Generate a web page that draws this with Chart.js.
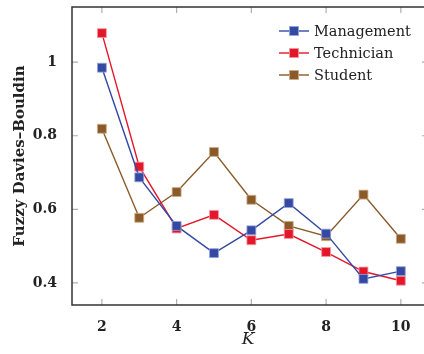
<!DOCTYPE html>
<html>
<head>
<meta charset="utf-8">
<script src="https://cdn.jsdelivr.net/npm/chart.js@4"></script>
<style>
  html, body { margin: 0; padding: 0; background: #fff; overflow: hidden; }
  #wrap { width: 424px; height: 354px; }
</style>
</head>
<body>
<div id="wrap"><canvas id="myChart"></canvas></div>
<script>
const kValues = [2, 3, 4, 5, 6, 7, 8, 9, 10];
const management = [0.985, 0.687, 0.555, 0.481, 0.543, 0.617, 0.534, 0.411, 0.432];
const technician = [1.079, 0.716, 0.548, 0.585, 0.516, 0.533, 0.484, 0.431, 0.406];
const student = [0.819, 0.577, 0.647, 0.756, 0.626, 0.555, 0.527, 0.640, 0.520];
const xTicks = [2, 4, 6, 8, 10];
const yTicks = [0.4, 0.6, 0.8, 1];

const serif = "'DejaVu Serif', serif";

function series(label, values, color, edge) {
    return {
        label: label,
        data: kValues.map((k, i) => ({ x: k, y: values[i] })),
        borderColor: color,
        backgroundColor: color,
        borderWidth: 1.4,
        pointStyle: 'rect',
        pointRadius: 6.3,
        pointBackgroundColor: color,
        pointBorderColor: edge,
        pointBorderWidth: 1,
        tension: 0
    };
}

const datasets = [
    series('Management', management, '#3449a2', 'rgba(150,165,220,0.8)'),
    series('Technician', technician, '#e3172a', 'rgba(245,150,160,0.8)'),
    series('Student', student, '#8a5a2a', 'rgba(205,170,130,0.8)')
];

// frame, inward ticks and legend
const framePlugin = {
    id: 'frame',
    afterDatasetsDraw(chart) {
        const ctx = chart.ctx;
        const a = chart.chartArea;
        const xs = chart.scales.x, ys = chart.scales.y;
        ctx.save();
        ctx.strokeStyle = '#b0b0b0';
        ctx.lineWidth = 1.2;
        xTicks.forEach(v => {
            const px = xs.getPixelForValue(v);
            ctx.beginPath();
            ctx.moveTo(px, a.bottom); ctx.lineTo(px, a.bottom - 6);
            ctx.moveTo(px, a.top); ctx.lineTo(px, a.top + 6);
            ctx.stroke();
        });
        yTicks.forEach(v => {
            const py = ys.getPixelForValue(v);
            ctx.beginPath();
            ctx.moveTo(a.left, py); ctx.lineTo(a.left + 6, py);
            ctx.moveTo(a.right + 4, py); ctx.lineTo(a.right - 2, py);
            ctx.stroke();
        });
        ctx.strokeStyle = '#333';
        ctx.lineWidth = 1.5;
        ctx.beginPath();
        ctx.moveTo(a.right, a.top);
        ctx.lineTo(a.left, a.top);
        ctx.lineTo(a.left, a.bottom);
        ctx.lineTo(a.right, a.bottom);
        ctx.stroke();

        // legend
        ctx.font = '14.5px ' + serif;
        ctx.textBaseline = 'middle';
        ctx.textAlign = 'left';
        chart.data.datasets.forEach((ds, i) => {
            const y = 31 + i * 22;
            const x0 = 279, x1 = 309;
            ctx.strokeStyle = ds.borderColor;
            ctx.lineWidth = 1.4;
            ctx.beginPath(); ctx.moveTo(x0, y); ctx.lineTo(x1, y); ctx.stroke();
            ctx.fillStyle = ds.borderColor;
            ctx.fillRect((x0 + x1) / 2 - 4.5, y - 4.5, 9, 9);
            ctx.strokeStyle = ds.pointBorderColor;
            ctx.lineWidth = 1;
            ctx.strokeRect((x0 + x1) / 2 - 4.5, y - 4.5, 9, 9);
            ctx.fillStyle = '#222';
            ctx.fillText(ds.label, 314, y + 1);
        });
        ctx.restore();
    }
};

const config = {
    type: 'line',
    data: { datasets: datasets },
    options: {
        responsive: true,
        maintainAspectRatio: false,
        animation: false,
        layout: { autoPadding: false, padding: { top: 7, right: 0, left: 0, bottom: 0 } },
        plugins: {
            legend: { display: false },
            tooltip: { enabled: false }
        },
        scales: {
            x: {
                type: 'linear',
                min: 1.2,
                max: 10.62,
                afterBuildTicks: s => { s.ticks = xTicks.map(v => ({ value: v })); },
                afterFit: s => { s.height = 49; s.paddingLeft = 0; s.paddingRight = 0; },
                grid: { display: false },
                border: { display: false },
                ticks: {
                    color: '#222',
                    padding: 6,
                    font: { family: serif, size: 14, weight: 'bold' }
                },
                title: {
                    display: true,
                    text: 'K',
                    color: '#222',
                    padding: { top: 4 },
                    font: { family: serif, size: 17, style: 'italic' }
                }
            },
            y: {
                min: 0.34,
                max: 1.15,
                afterBuildTicks: s => { s.ticks = yTicks.map(v => ({ value: v })); },
                afterFit: s => { s.width = 72; s.paddingTop = 0; s.paddingBottom = 0; },
                grid: { display: false },
                border: { display: false },
                ticks: {
                    color: '#222',
                    padding: 7,
                    font: { family: serif, size: 14, weight: 'bold' },
                    callback: v => (v === 1 ? '1' : v.toFixed(1))
                },
                title: {
                    display: true,
                    text: 'Fuzzy Davies–Bouldin',
                    color: '#222',
                    padding: { top: 11, bottom: 0 },
                    font: { family: serif, size: 15, weight: 'bold' }
                }
            }
        }
    },
    plugins: [framePlugin]
};

const chart = new Chart(document.getElementById('myChart'), config);
</script>
</body>
</html>
